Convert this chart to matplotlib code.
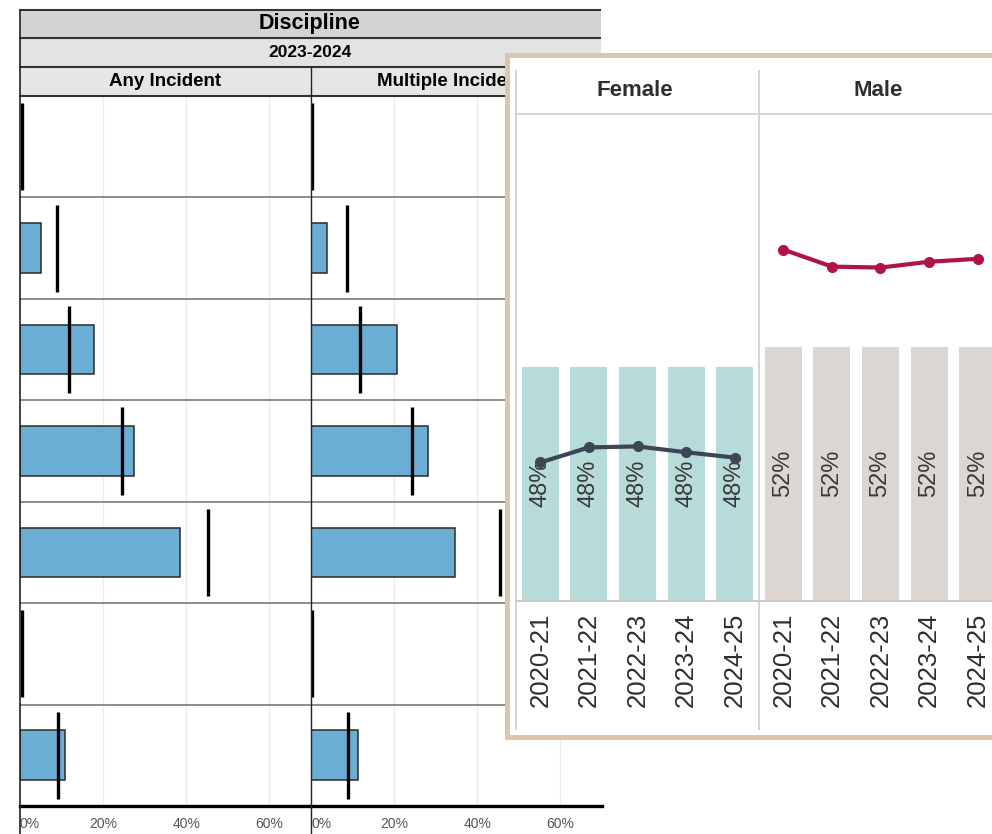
import numpy as np
import matplotlib
matplotlib.use('Agg')
import matplotlib.pyplot as plt
from matplotlib.lines import Line2D
from matplotlib.patches import Rectangle

plt.rcParams['font.family'] = ['Liberation Sans', 'DejaVu Sans']

# ── data ──
# background chart: discipline rates (%) per row, bar = school, line = state
any_rate = [0, 5.1, 17.8, 27.4, 38.5, 0, 10.9]
any_state = [0.4, 8.9, 11.8, 24.5, 45.2, 0.4, 9.2]
multi_rate = [0, 3.9, 20.7, 28.2, 34.7, 0, 11.3]
multi_state = [0.3, 8.7, 11.8, 24.3, 45.5, 0.3, 8.9]
x_ticks = [0, 20, 40, 60]
x_tick_labels = ['0%', '20%', '40%', '60%']

# inset chart: enrollment share by gender
years = ['2020-21', '2021-22', '2022-23', '2023-24', '2024-25']
female_share = [48, 48, 48, 48, 48]
male_share = [52, 52, 52, 52, 52]
female_line = [28.3, 31.4, 31.6, 30.4, 29.3]
male_line = [72.1, 68.6, 68.4, 69.6, 70.2]

# ── layout helpers (pixels) ──
W, H = 992, 834
fig = plt.figure(figsize=(W/100, H/100), dpi=100)


def box(x0, y0, x1, y1):
    return [x0/W, 1-y1/H, (x1-x0)/W, (y1-y0)/H]


def fline(x0, y0, x1, y1, color, lw, z):
    fig.add_artist(Line2D([x0/W, x1/W], [1-y0/H, 1-y1/H], transform=fig.transFigure,
                          color=color, lw=lw, zorder=z, solid_capstyle='butt'))


def frect(x0, y0, x1, y1, color, z):
    fig.add_artist(Rectangle((x0/W, 1-y1/H), (x1-x0)/W, (y1-y0)/H, transform=fig.transFigure,
                             facecolor=color, edgecolor='none', zorder=z))


# ═══ background: Discipline ═══
frect(20, 10, 601, 38, '#d3d3d3', 1)
frect(20, 38, 601, 67, '#e3e3e3', 1)
frect(20, 67, 601, 96, '#e6e6e6', 1)
for yy in [10, 38, 67, 96]:
    fline(19, yy, 601, yy, '#333333', 1.5, 2)
fline(20, 10, 20, 834, '#222222', 1.2, 2)
fline(311, 67, 311, 834, '#222222', 1.0, 2)
fig.text(310/W, 1-23/H, 'Discipline', ha='center', va='center', fontsize=15.5, fontweight='bold', zorder=3)
fig.text(310/W, 1-52.5/H, '2023-2024', ha='center', va='center', fontsize=12.5, fontweight='bold', zorder=3)
fig.text(165/W, 1-82/H, 'Any Incident', ha='center', va='center', fontsize=13.5, fontweight='bold', zorder=3)
fig.text(456/W, 1-82/H, 'Multiple Incidents', ha='center', va='center', fontsize=13.5, fontweight='bold', zorder=3)

rows = np.arange(len(any_rate)) + 0.5
for pos, rate, state in [((20, 96, 311, 806), any_rate, any_state),
                         ((311, 96, 602, 806), multi_rate, multi_state)]:
    ax = fig.add_axes(box(*pos))
    ax.set_xlim(0, 70)
    ax.set_ylim(len(rate), 0)
    for g in x_ticks[1:]:
        ax.axvline(g, color='#ececec', lw=1, zorder=0)
    for k in range(1, len(rate)):
        ax.axhline(k, color='#8c8c8c', lw=1.4, zorder=1)
    r = np.array(rate)
    m = r > 0
    ax.barh(rows[m], r[m], height=0.49, color='#6baed3', edgecolor='#2a2a2a', lw=1.1, zorder=2)
    ax.vlines(state, rows-0.43, rows+0.43, color='black', lw=2.4, zorder=3)
    for s in ['top', 'right', 'left']:
        ax.spines[s].set_visible(False)
    ax.spines['bottom'].set_linewidth(2.4)
    ax.spines['bottom'].set_color('black')
    ax.set_yticks([])
    ax.set_xticks(x_ticks)
    ax.set_xticklabels(x_tick_labels, fontsize=10, color='#555555')
    ax.get_xticklabels()[0].set_horizontalalignment('left')
    ax.tick_params(axis='x', length=0, pad=8)

# ═══ inset: Female / Male ═══
fr = fig.add_axes(box(506.5, 55.5, 1000, 737))
fr.set_zorder(5)
fr.set_facecolor('white')
fr.set_xticks([])
fr.set_yticks([])
for s in fr.spines.values():
    s.set_color('#dcc4ae')
    s.set_linewidth(3.6)

x = np.arange(len(years))
for pos, share, line, bar_c, line_c in [((516, 114, 759, 600), female_share, female_line, '#b7dbd8', '#3b4754'),
                                        ((759, 114, 1002, 600), male_share, male_line, '#dcd6d3', '#b0134a')]:
    ax = fig.add_axes(box(*pos))
    ax.set_zorder(6)
    ax.patch.set_visible(False)
    ax.bar(x, share, width=0.76, color=bar_c, zorder=1)
    for i, v in enumerate(share):
        ax.text(i, v/2, f'{v}%', rotation=90, ha='center', va='center', fontsize=17,
                color='#3a3a3a', zorder=2)
    ax.plot(x, line, color=line_c, lw=3, marker='o', ms=7, zorder=3)
    ax.set_xlim(-0.5, len(years)-0.5)
    ax.set_ylim(0, 100)
    ax.set_yticks([])
    ax.set_xticks(x)
    ax.set_xticklabels(years, rotation=90, fontsize=18.5, color='#2e2e2e')
    ax.tick_params(axis='x', length=0, pad=9)
    for s in ax.spines.values():
        s.set_visible(False)

fline(516, 70, 516, 730, '#d4d4d4', 1.4, 7)
fline(759, 70, 759, 730, '#d4d4d4', 1.4, 7)
fline(516, 114, 1000, 114, '#d4d4d4', 1.4, 7)
fline(516, 600.5, 1000, 600.5, '#c8c8c8', 1.4, 7)
fig.text(635/W, 1-91/H, 'Female', ha='center', va='center', fontsize=16, fontweight='bold', color='#2e2e2e', zorder=8)
fig.text(878/W, 1-91/H, 'Male', ha='center', va='center', fontsize=16, fontweight='bold', color='#2e2e2e', zorder=8)

fig.savefig('out.png', dpi=100)
